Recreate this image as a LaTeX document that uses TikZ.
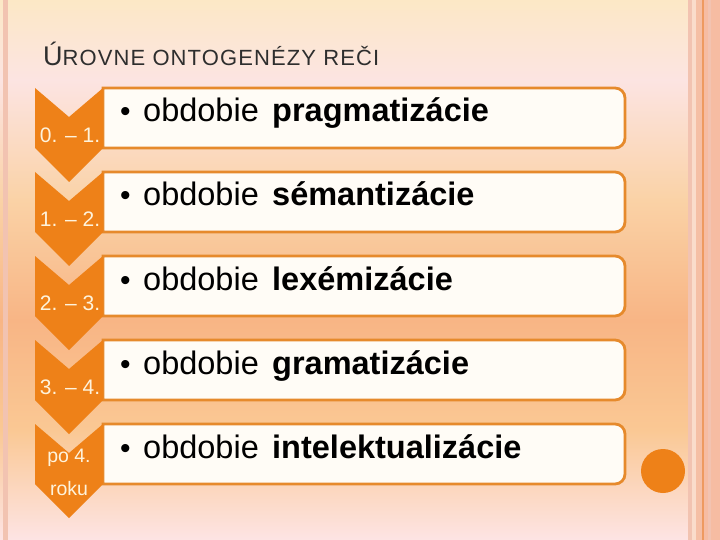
\documentclass[tikz,border=0pt]{standalone}
\usepackage{fontspec}
\setmainfont{Liberation Sans}
\definecolor{chev}{HTML}{EE8118}
\definecolor{boxedge}{HTML}{E68A2C}
\definecolor{boxfill}{HTML}{FFFCF6}
\definecolor{chevtext}{HTML}{FEF3DC}
\definecolor{titlecol}{HTML}{2E2E2E}
\definecolor{bgA}{HTML}{FCE8C6}
\definecolor{bgB}{HTML}{FCE4E2}
\definecolor{bgC}{HTML}{FAD2A6}
\definecolor{bgD}{HTML}{F8B585}
\definecolor{bgE}{HTML}{FAC894}
\definecolor{bgF}{HTML}{FDE4E4}
\definecolor{stripeA}{HTML}{F2C3B1}
\definecolor{stripeB}{HTML}{FADCCB}
\definecolor{stripeC}{HTML}{F5BFA5}
\definecolor{stripeD}{HTML}{EE9A60}
\definecolor{stripeE}{HTML}{F6BCA2}
\begin{document}
\begin{tikzpicture}[x=1pt,y=-1pt,
  boxline/.style={draw=boxedge,line width=2.8pt,fill=boxfill},
  chevfill/.style={fill=chev},
  bul/.style={anchor=base west,inner sep=0pt,font=\fontsize{30pt}{38pt}\selectfont},
  plainword/.style={anchor=base west,inner sep=0pt,font=\fontsize{32.5pt}{38pt}\selectfont},
  boldword/.style={anchor=base west,inner sep=0pt,font=\fontsize{32.5pt}{38pt}\selectfont\bfseries},
  chevlabel/.style={anchor=base,inner sep=0pt,text=chevtext,font=\fontsize{21pt}{25pt}\selectfont}]
\useasboundingbox (0,0) rectangle (720,540);
% background gradient
\fill[top color=bgA,bottom color=bgB] (0,0) rectangle (720,80.5);
\fill[top color=bgB,bottom color=bgC] (0,80) rectangle (720,200.5);
\fill[top color=bgC,bottom color=bgD] (0,200) rectangle (720,320.5);
\fill[top color=bgD,bottom color=bgE] (0,320) rectangle (720,430.5);
\fill[top color=bgE,bottom color=bgF] (0,430) rectangle (720,540);
% border stripes
\fill[stripeA] (3,0) rectangle (8,540);
\fill[stripeA] (688,0) rectangle (692,540);
\fill[stripeB] (692,0) rectangle (696,540);
\fill[stripeC] (696,0) rectangle (702,540);
\fill[stripeD] (702,0) rectangle (704,540);
\fill[stripeE] (704,0) rectangle (720,540);
\fill[stripeA] (708,0) rectangle (711,540);
% title
\node[anchor=base west,inner sep=0pt,text=titlecol] (title) at (43,66)
  {{\fontsize{27pt}{30pt}\selectfont Ú}{\fontsize{22pt}{24pt}\selectfont\addfontfeature{LetterSpace=5}ROVNE ONTOGENÉZY REČI}};
% rows
\foreach \i/\word in {0/pragmatizácie,1/sémantizácie,2/lexémizácie,3/gramatizácie,4/intelektualizácie} {
  \pgfmathsetmacro{\t}{88+84*\i}
  \draw[boxline] (103,\t) [rounded corners=10pt] -- (625,\t) -- (625,\t+60) [sharp corners] -- (103,\t+60) -- cycle;
  \fill[chevfill] (35,\t) -- (69,\t+29) -- (103,\t) -- (103,\t+60) -- (69,\t+94) -- (35,\t+60) -- cycle;
  \node[bul] (b\i) at (120,\t+34) {•};
  \node[plainword] (o\i) at (143,\t+34) {obdobie};
  \node[boldword] (w\i) at (272,\t+34) {\word};
}
\node[chevlabel] (l0) at (70,142.5) {0. – 1.};
\node[chevlabel] (l1) at (70,226.5) {1. – 2.};
\node[chevlabel] (l2) at (70,310.5) {2. – 3.};
\node[chevlabel] (l3) at (70,394.5) {3. – 4.};
\node[chevlabel,font=\fontsize{19.5pt}{22pt}\selectfont] (l4a) at (69,462) {po 4.};
\node[chevlabel,font=\fontsize{19.5pt}{22pt}\selectfont] (l4b) at (69,495) {roku};
% circle
\node[circle,fill=chev,minimum size=44pt,inner sep=0pt] (dot) at (663,471) {};
\end{tikzpicture}
\end{document}
